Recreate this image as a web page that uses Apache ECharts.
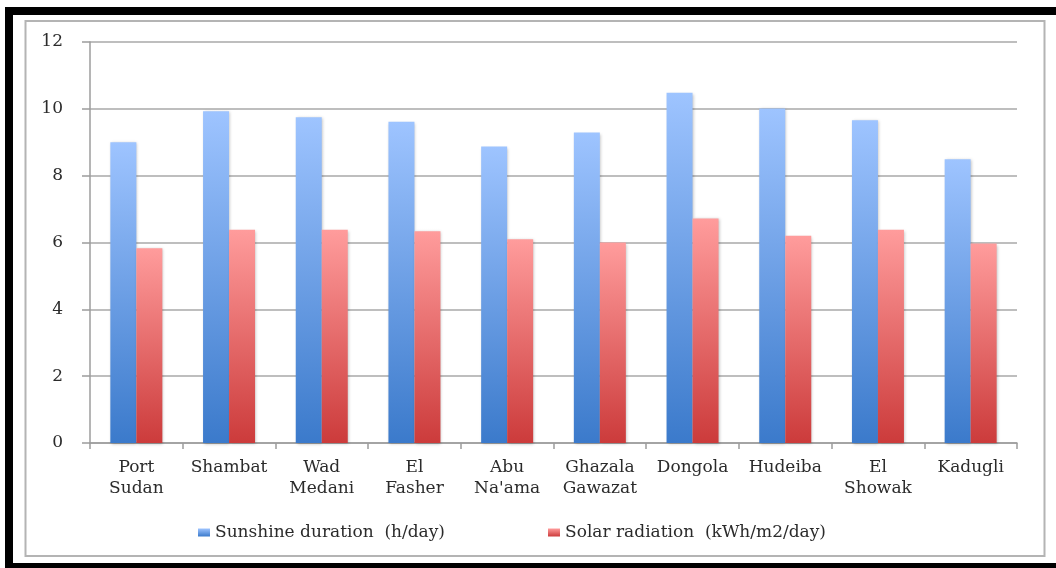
<!DOCTYPE html>
<html>
<head>
<meta charset="utf-8">
<script src="https://cdn.jsdelivr.net/npm/echarts@6/dist/echarts.min.js"></script>
<style>
  html, body { margin: 0; padding: 0; background: #fff; }
  #chart { width: 1056px; height: 568px; }
</style>
</head>
<body>
<div id="chart"></div>
<script>
// Stations (two-line labels)
const stations = [
  'Port\nSudan', 'Shambat', 'Wad\nMedani', 'El\nFasher', 'Abu\nNa\'ama',
  'Ghazala\nGawazat', 'Dongola', 'Hudeiba', 'El\nShowak', 'Kadugli'
];
// Mean daily sunshine duration (h/day)
const sunshine = [9.0, 9.93, 9.75, 9.61, 8.87, 9.29, 10.48, 10.01, 9.66, 8.49];
// Mean daily solar radiation (kWh/m2/day)
const radiation = [5.83, 6.38, 6.38, 6.34, 6.10, 6.0, 6.72, 6.20, 6.38, 5.97];
// Value-axis ticks
const yTicks = [0, 2, 4, 6, 8, 10, 12];
const seriesNames = ['Sunshine duration  (h/day)', 'Solar radiation  (kWh/m2/day)'];

const FONT = 'DejaVu Serif';
const TEXT = '#2b2b2b';
const AXIS = '#9c9c9c';

function grad(top, bottom) {
  return new echarts.graphic.LinearGradient(0, 0, 0, 1, [
    { offset: 0, color: top },
    { offset: 1, color: bottom }
  ]);
}

function legendAt(left, name) {
  return {
    left: left,
    top: 519,
    icon: 'rect',
    itemWidth: 12,
    itemHeight: 8,
    itemGap: 0,
    textStyle: { fontFamily: FONT, fontSize: 17, color: TEXT },
    data: [name]
  };
}

const barShadow = {
  shadowColor: 'rgba(0,0,0,0.25)',
  shadowBlur: 3,
  shadowOffsetX: 1,
  shadowOffsetY: 1
};

const chart = echarts.init(document.getElementById('chart'), null, { renderer: 'canvas' });

chart.setOption({
  backgroundColor: '#ffffff',
  animation: false,
  textStyle: { fontFamily: FONT, color: TEXT },
  grid: { left: 90, right: 39, top: 42, bottom: 125, containLabel: false },
  legend: [legendAt(193, seriesNames[0]), legendAt(543, seriesNames[1])],
  xAxis: {
    type: 'category',
    data: stations,
    axisLine: { show: true, lineStyle: { color: AXIS, width: 1.5 } },
    axisTick: { show: true, interval: 0, length: 6, lineStyle: { color: AXIS, width: 1.5 } },
    axisLabel: {
      interval: 0,
      margin: 14,
      fontFamily: FONT,
      fontSize: 17,
      lineHeight: 21,
      color: TEXT
    }
  },
  yAxis: {
    type: 'value',
    min: yTicks[0],
    max: yTicks[yTicks.length - 1],
    interval: yTicks[1] - yTicks[0],
    axisLine: { show: true, lineStyle: { color: AXIS, width: 1.5 } },
    axisTick: { show: true, length: 8, lineStyle: { color: AXIS, width: 1.5 } },
    splitLine: { show: true, lineStyle: { color: '#a8a8a8', width: 1.5 } },
    axisLabel: { margin: 27, fontFamily: FONT, fontSize: 17, color: TEXT }
  },
  series: [
    {
      name: seriesNames[0],
      type: 'bar',
      data: sunshine,
      barWidth: 26,
      barGap: '0%',
      itemStyle: Object.assign({ color: grad('#9ec4ff', '#3b7acb') }, barShadow)
    },
    {
      name: seriesNames[1],
      type: 'bar',
      data: radiation,
      barWidth: 26,
      barGap: '0%',
      itemStyle: Object.assign({ color: grad('#ff9c9c', '#cc3b3b') }, barShadow)
    }
  ],
  graphic: [
    // thin grey chart-area frame
    { type: 'rect', shape: { x: 25.5, y: 21, width: 1019, height: 535 },
      style: { fill: 'none', stroke: '#b4b4b4', lineWidth: 2 }, silent: true },
    // heavy black page frame (top, left, bottom)
    { type: 'rect', shape: { x: 5, y: 7, width: 1051, height: 8 }, style: { fill: '#000' }, silent: true },
    { type: 'rect', shape: { x: 5, y: 7, width: 8, height: 561 }, style: { fill: '#000' }, silent: true },
    { type: 'rect', shape: { x: 5, y: 563, width: 1051, height: 5 }, style: { fill: '#000' }, silent: true }
  ]
});
</script>
</body>
</html>
